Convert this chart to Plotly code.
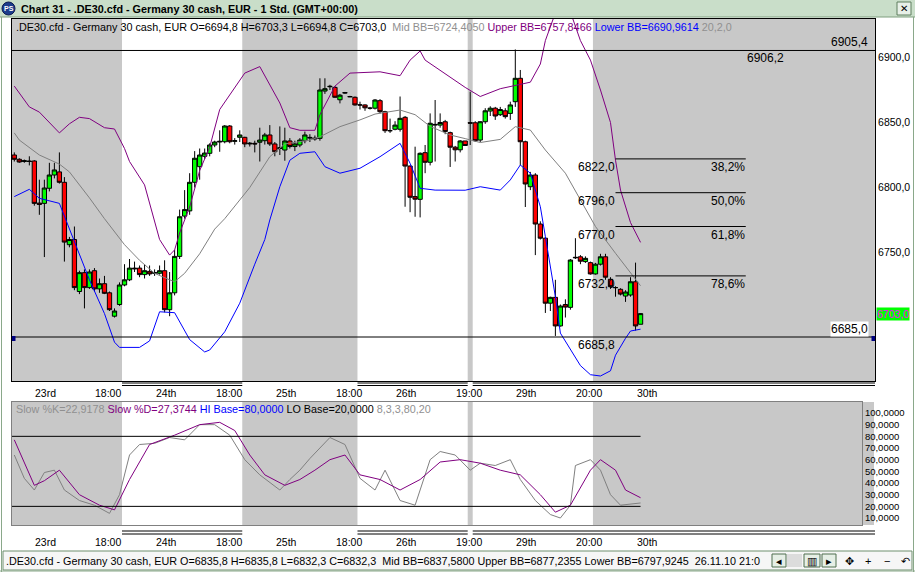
import plotly.graph_objects as go

# ---------------- data ----------------
opens = [6825.0, 6821.7, 6820.0, 6820.4, 6820.4, 6788.0, 6787.8, 6799.4, 6809.6, 6812.0,
         6804.0, 6756.0, 6760.0, 6720.0, 6734.5, 6723.0, 6736.0, 6722.0, 6726.0, 6719.0,
         6701.0, 6710.0, 6725.0, 6729.0, 6738.0, 6738.0, 6733.0, 6735.5, 6734.0, 6734.0,
         6736.0, 6706.0, 6719.0, 6747.0, 6778.0, 6782.0, 6804.0, 6816.0, 6824.0, 6826.3,
         6832.7, 6835.0, 6835.2, 6847.3, 6835.5, 6838.6, 6838.6, 6833.5, 6834.0, 6834.8,
         6836.0, 6840.4, 6833.5, 6830.0, 6828.8, 6835.8, 6831.5, 6832.7, 6836.0, 6838.0,
         6838.0, 6837.8, 6874.2, 6877.5, 6877.0, 6867.5, 6872.6, 6870.0, 6869.4, 6863.5,
         6863.5, 6861.0, 6861.0, 6866.8, 6858.3, 6843.7, 6844.8, 6844.8, 6854.0, 6816.5,
         6793.0, 6790.9, 6826.8, 6819.4, 6848.0, 6848.0, 6850.6, 6842.2, 6831.0, 6829.0,
         6835.8, 6849.9, 6849.8, 6836.5, 6850.6, 6858.8, 6861.0, 6856.0, 6859.0, 6857.0,
         6866.0, 6884.0, 6835.2, 6800.6, 6809.6, 6771.9, 6761.0, 6711.0, 6715.5, 6693.5,
         6710.0, 6707.8, 6746.3, 6746.7, 6743.0, 6742.2, 6733.5, 6741.0, 6746.7, 6729.4,
         6723.0, 6721.7, 6716.5, 6717.3, 6727.5, 6694.8]
highs = [6827.0, 6822.5, 6821.5, 6824.0, 6821.0, 6806.0, 6806.0, 6819.0, 6819.0, 6827.0,
         6808.0, 6762.0, 6770.0, 6736.0, 6737.0, 6737.0, 6738.0, 6730.0, 6732.0, 6720.0,
         6707.0, 6727.0, 6741.0, 6745.0, 6743.0, 6740.0, 6741.0, 6740.0, 6737.0, 6740.0,
         6744.0, 6735.0, 6752.0, 6783.0, 6798.0, 6811.0, 6828.0, 6830.0, 6830.0, 6834.0,
         6836.0, 6844.0, 6848.0, 6848.0, 6838.0, 6844.0, 6839.0, 6835.0, 6836.0, 6846.0,
         6842.0, 6848.0, 6835.0, 6847.0, 6846.0, 6838.0, 6836.0, 6838.0, 6843.0, 6841.0,
         6840.0, 6884.0, 6884.0, 6879.0, 6878.0, 6872.0, 6873.5, 6870.5, 6870.0, 6866.0,
         6864.0, 6862.0, 6868.0, 6868.0, 6859.0, 6853.0, 6851.0, 6870.0, 6855.0, 6817.0,
         6831.4, 6827.0, 6832.7, 6857.0, 6867.3, 6857.0, 6852.0, 6843.0, 6832.0, 6836.5,
         6835.8, 6873.7, 6851.0, 6851.0, 6861.0, 6862.5, 6862.0, 6862.0, 6861.0, 6866.0,
         6906.2, 6890.4, 6836.0, 6812.0, 6811.0, 6774.0, 6762.0, 6716.0, 6729.0, 6710.0,
         6714.0, 6745.0, 6761.0, 6748.0, 6747.0, 6743.0, 6742.0, 6749.0, 6749.0, 6731.0,
         6724.0, 6722.5, 6721.0, 6731.0, 6742.2, 6703.3]
lows = [6820.0, 6819.0, 6819.0, 6817.0, 6786.0, 6779.0, 6746.5, 6797.0, 6807.0, 6803.0,
        6743.0, 6754.0, 6721.0, 6718.0, 6707.0, 6722.0, 6720.0, 6719.0, 6718.0, 6705.0,
        6700.0, 6709.0, 6724.0, 6728.0, 6735.0, 6731.0, 6730.0, 6732.0, 6732.0, 6733.0,
        6704.0, 6701.0, 6717.0, 6745.0, 6776.0, 6779.0, 6800.0, 6806.0, 6822.0, 6824.0,
        6831.0, 6827.5, 6834.0, 6834.0, 6833.0, 6835.0, 6831.0, 6831.5, 6827.0, 6820.0,
        6833.0, 6832.0, 6824.0, 6825.0, 6820.6, 6830.0, 6828.0, 6831.0, 6834.0, 6835.0,
        6836.0, 6836.0, 6872.0, 6875.0, 6869.0, 6864.7, 6872.0, 6869.5, 6863.0, 6860.0,
        6859.0, 6860.0, 6860.0, 6857.0, 6842.0, 6842.0, 6844.0, 6843.0, 6785.2, 6781.0,
        6777.5, 6777.0, 6811.0, 6817.0, 6820.0, 6846.0, 6841.0, 6815.8, 6820.0, 6827.0,
        6832.3, 6832.7, 6835.0, 6835.0, 6849.0, 6855.0, 6852.0, 6855.0, 6853.0, 6852.0,
        6862.0, 6817.0, 6785.0, 6798.0, 6748.0, 6760.0, 6703.5, 6705.0, 6685.8, 6693.0,
        6700.0, 6706.0, 6745.0, 6741.0, 6742.0, 6733.0, 6733.0, 6740.0, 6729.0, 6722.0,
        6716.0, 6717.0, 6712.0, 6716.0, 6690.0, 6694.8]
closes = [6821.7, 6819.6, 6820.6, 6820.0, 6787.8, 6787.0, 6799.6, 6809.6, 6813.5, 6804.0,
          6758.0, 6760.0, 6723.0, 6734.5, 6723.0, 6735.0, 6722.0, 6726.0, 6718.6, 6706.0,
          6705.0, 6725.0, 6729.0, 6738.0, 6737.5, 6733.0, 6736.0, 6733.5, 6734.5, 6736.0,
          6706.0, 6719.0, 6747.0, 6777.5, 6783.0, 6804.0, 6822.5, 6825.0, 6826.5, 6832.7,
          6835.0, 6835.5, 6847.3, 6835.2, 6836.0, 6840.4, 6833.5, 6834.0, 6833.5, 6836.5,
          6840.4, 6833.5, 6827.5, 6830.5, 6835.8, 6831.5, 6833.5, 6836.5, 6840.4, 6838.5,
          6837.5, 6875.0, 6876.0, 6877.8, 6869.4, 6871.0, 6873.0, 6869.8, 6863.5, 6863.5,
          6861.3, 6861.0, 6867.3, 6858.3, 6843.7, 6843.7, 6848.0, 6853.2, 6816.5, 6792.5,
          6791.0, 6826.3, 6819.4, 6849.4, 6848.5, 6850.0, 6843.0, 6831.0, 6829.0, 6835.8,
          6832.3, 6849.5, 6836.0, 6850.6, 6859.0, 6861.0, 6855.0, 6860.0, 6854.5, 6863.5,
          6884.0, 6835.2, 6802.7, 6809.6, 6771.9, 6761.0, 6711.0, 6715.5, 6693.5, 6708.8,
          6708.0, 6744.2, 6746.0, 6743.3, 6745.5, 6733.5, 6741.0, 6746.7, 6731.0, 6723.7,
          6723.0, 6718.0, 6719.6, 6727.5, 6693.5, 6703.0]

# Bollinger band lines (bar index, value)
bb_up_bars = [0, 3, 5, 9, 11, 13, 15, 18, 20, 22, 23, 26, 29, 31, 32, 33, 35, 37, 39, 41,
              46, 49, 53, 55, 57, 60, 61, 64, 67, 73, 77, 79, 81, 82, 90, 93, 97, 103, 105,
              106, 109, 111, 113, 115, 117, 119, 120, 121, 123, 125]
bb_up = [6878, 6862, 6858, 6842, 6849, 6854, 6853, 6846, 6845, 6830, 6820, 6802, 6760, 6748,
         6752, 6765, 6785, 6813, 6831, 6860, 6888, 6893, 6865, 6846, 6844, 6844, 6856, 6878,
         6888, 6889, 6886, 6898, 6905, 6898, 6877, 6870, 6876, 6881, 6895, 6913, 6945, 6935,
         6913, 6898, 6875, 6850, 6821, 6798, 6773, 6757.8]
bb_mid_bars = [0, 1, 5, 9, 11, 15, 18, 22, 25, 28, 31, 32, 34, 37, 40, 42, 47, 51, 54, 59,
               61, 65, 69, 72, 77, 80, 83, 87, 90, 93, 97, 100, 103, 106, 110, 113, 116, 120,
               123, 125]
bb_mid = [6842, 6836.5, 6825, 6818, 6812, 6792, 6776, 6756, 6744, 6734, 6729, 6727.5, 6734,
          6749, 6768, 6776, 6800, 6823.7, 6833.5, 6836.5, 6839, 6846.8, 6852, 6856.5, 6859.6,
          6856, 6847, 6840.4, 6837.6, 6834.6, 6837, 6846.8, 6844.2, 6828.8, 6811, 6790.4,
          6770, 6749.4, 6734, 6724.4]
bb_low_bars = [0, 3, 5, 9, 10, 12, 15, 18, 20, 21, 25, 27, 29, 32, 34, 35, 38, 39, 42, 45,
               48, 50, 51, 53, 55, 57, 60, 62, 65, 69, 73, 77, 79, 81, 84, 90, 93, 97, 99, 101,
               103, 105, 106, 108, 109, 111, 113, 115, 117, 119, 120, 122, 123, 125]
bb_low = [6793, 6798.6, 6791.7, 6787.8, 6778, 6758, 6729, 6703, 6681, 6677, 6677, 6682,
          6704.4, 6703.7, 6690.4, 6683, 6673.5, 6675, 6689, 6711, 6741, 6760, 6775, 6800.6,
          6821, 6826.3, 6827.5, 6816, 6811, 6814.8, 6823.7, 6834, 6818.6, 6799.4, 6798,
          6797.9, 6800.6, 6798, 6805.8, 6817.3, 6811, 6785.2, 6762.2, 6716, 6688, 6675,
          6663, 6656, 6655, 6659, 6671, 6684, 6689.6, 6691]

# Slow stochastic (8,3,3)
stk_bars = [0, 2, 4, 6, 8, 10, 13, 16, 19, 21, 23, 25, 28, 31, 34, 37, 40, 43, 46, 49, 53,
            55, 57, 59, 63, 66, 69, 72, 74, 77, 80, 83, 85, 88, 91, 93, 96, 99, 101, 104,
            107, 109, 111, 112, 115, 117, 119, 121, 125]
stk_k = [64, 44, 34, 49, 51, 34, 25, 21, 14, 30, 64, 73, 74, 79, 77, 90, 90, 81, 60, 47, 34,
         43, 51, 61, 79, 73, 44, 34, 51, 25, 21, 60, 67, 64, 51, 57, 55, 60, 43, 25, 13, 10,
         21, 55, 60, 51, 30, 21, 22.9]
std_bars = [0, 4, 6, 9, 13, 17, 20, 23, 27, 32, 37, 41, 44, 47, 50, 54, 57, 60, 63, 66, 69,
            73, 77, 81, 85, 89, 93, 97, 101, 105, 108, 111, 115, 117, 120, 122, 125]
std_d = [77, 38, 42, 51, 30, 21, 17, 43, 73, 81, 90, 92, 85, 64, 47, 38, 43, 51, 60, 64, 47,
         43, 34, 43, 58, 60, 57, 51, 47, 30, 15, 21, 51, 60, 51, 34, 27.4]

tick_labels = ["23rd", "18:00", "24th", "18:00", "25th", "18:00", "26th", "19:00",
               "29th", "20:00", "30th"]
session_starts = [22, 46, 69, 91, 92, 116]          # first bar of each new session
fib_levels = [6822.0, 6796.0, 6770.0, 6732.0]
fib_pcts = ["38,2%", "50,0%", "61,8%", "78,6%"]
swing_high, swing_low = 6906.2, 6685.8
hline_top, hline_bottom = 6905.4, 6685.0

# ---------------- geometry ----------------
W, H = 915, 572
def px(x): return x / W
def py(y): return 1 - y / H

BAR0, BAR_W = 14.3, 5.01
def bar_at(xp): return (xp - BAR0) / BAR_W

X_L, X_RM, X_RS = 12, 875, 862
M_T, M_B = 19, 381
S_T, S_B = 402, 525
xmin = bar_at(X_L)
xmax_m = bar_at(X_RM)
xmax_s = bar_at(X_RS)
y_lo = 6900 - (M_B - 57.5) / 1.3
y_hi = 6900 + (57.5 - M_T) / 1.3
s_lo = 100 - (S_B - 413) / 1.167
s_hi = 100 + (413 - S_T) / 1.167

n = len(opens)
bars = list(range(n))
FONT = "Liberation Sans"
GRAY_BG = "#c8c8c8"
TXT = 10.8

fig = go.Figure()
fig.add_trace(go.Candlestick(
    x=bars, open=opens, high=highs, low=lows, close=closes,
    increasing=dict(line=dict(color="black", width=1), fillcolor="#00ff00"),
    decreasing=dict(line=dict(color="black", width=1), fillcolor="#ff0000"),
    whiskerwidth=0, showlegend=False, hoverinfo="skip", xaxis="x", yaxis="y"))
for bx, by, col in [(bb_mid_bars, bb_mid, "#808080"), (bb_up_bars, bb_up, "#800080"),
                    (bb_low_bars, bb_low, "#0000ff")]:
    fig.add_trace(go.Scatter(x=bx, y=by, mode="lines", line=dict(color=col, width=1),
                             showlegend=False, hoverinfo="skip", xaxis="x", yaxis="y"))
fig.add_trace(go.Scatter(x=stk_bars, y=stk_k, mode="lines", line=dict(color="#808080", width=1),
                         showlegend=False, hoverinfo="skip", xaxis="x2", yaxis="y2"))
fig.add_trace(go.Scatter(x=std_bars, y=std_d, mode="lines", line=dict(color="#800080", width=1),
                         showlegend=False, hoverinfo="skip", xaxis="x2", yaxis="y2"))

shapes = []
def rect(x0, x1, y0, y1, fill, xref="paper", yref="paper", line=None, layer="below"):
    shapes.append(dict(type="rect", xref=xref, yref=yref, x0=x0, x1=x1, y0=y0, y1=y1,
                       fillcolor=fill, line=line or dict(width=0), layer=layer))
def seg(x0, y0, x1, y1, color="black", xref="paper", yref="paper", width=1, layer="above"):
    shapes.append(dict(type="line", xref=xref, yref=yref, x0=x0, y0=y0, x1=x1, y1=y1,
                       line=dict(color=color, width=width), layer=layer))

def shade(xref, yref, right):
    edges = [xmin] + [s - 0.5 for s in session_starts] + [right]
    for i in range(len(edges) - 1):
        if i % 2 == 0:
            rect(edges[i], edges[i + 1], 0, 1, GRAY_BG, xref=xref, yref=yref)
shade("x", "y domain", xmax_m)
shade("x2", "y2 domain", xmax_s)
rect(px(862), px(874), py(S_B), py(S_T), GRAY_BG)

# window chrome
rect(0, 1, py(17), 1, "#c9dec9")
seg(0, py(17), 1, py(17), "#7f9f7f")
seg(px(1.5), 0, px(1.5), py(17), "#8aa88a")
seg(px(913.5), 0, px(913.5), py(17), "#8aa88a")
seg(0, py(571), 1, py(571), "#8aa88a")
shapes.append(dict(type="circle", xref="paper", yref="paper", x0=px(2), x1=px(15), y0=py(15),
                   y1=py(2), fillcolor="#1c3c8c", line=dict(color="#0a1a50", width=1)))
rect(px(897), px(911), py(15), py(2), "#e8f0e8", line=dict(color="#5f7f5f", width=1))
rect(px(3), px(912), py(570), py(551), "#f6f6f6", line=dict(color="#6f8f6f", width=1))
for x0b, x1b in [(772, 786), (804, 820), (822, 836)]:
    rect(px(x0b), px(x1b), py(567), py(554), "#e6efe6", line=dict(color="#4f6f4f", width=1))
rect(px(787), px(802), py(567), py(554), "#dcdcdc")

for a, b in [(21.5, 45.5), (68.5, 90.5), (91.5, None)]:
    xa = px(BAR0 + a * BAR_W)
    xb = px(X_RM) if b is None else px(BAR0 + b * BAR_W)
    for yy in (383, 385.5, 531, 534):
        seg(xa, py(yy), xb, py(yy))

seg(px(X_L), hline_top, px(X_RM), hline_top, yref="y")
seg(px(X_L), hline_bottom, px(X_RM), hline_bottom, yref="y")
rect(px(12), px(15.5), py(341), py(336), "#000080", layer="above")
rect(px(871.5), px(875), py(341), py(336), "#000080", layer="above")
FIB_A, FIB_B = 120, 146
for lv in fib_levels:
    seg(FIB_A, lv, FIB_B, lv, xref="x", yref="y")
for lv in (80, 20):
    seg(xmin, lv, n - 1, lv, xref="x2", yref="y2")

ann = []
def text(x, y, s, size=11, color="black", xanchor="left", yanchor="middle", xref="paper",
         yref="paper", **kw):
    ann.append(dict(x=x, y=y, text=s, xref=xref, yref=yref, xanchor=xanchor, yanchor=yanchor,
                    showarrow=False, font=dict(family=FONT, size=size, color=color),
                    borderpad=0, **kw))

def fmt(v, d=1):
    return f"{v:.{d}f}".replace(".", ",")

text(px(20), py(8.5), "<b>Chart 31 - .DE30.cfd - Germany 30 cash, EUR - 1 Std. (GMT+00:00)</b>",
     size=TXT)
text(px(8.5), py(8.5), "<b>PS</b>", size=7, color="white", xanchor="center")
text(px(904), py(8.5), "✕", size=10, xanchor="center")

hdr = (f".DE30.cfd - Germany 30 cash, EUR O={fmt(opens[-1])} H={fmt(highs[-1])} "
       f"L={fmt(lows[-1])} C={fmt(closes[-1])}  "
       '<span style="color:#909090">Mid BB=6724,4050</span> '
       '<span style="color:#800080">Upper BB=6757,8466</span> '
       '<span style="color:#0000ff">Lower BB=6690,9614</span> '
       '<span style="color:#909090">20,2,0</span>')
text(px(15), py(27), hdr, size=TXT)
shdr = ('<span style="color:#909090">Slow %K=22,9178</span> '
        '<span style="color:#800080">Slow %D=27,3744</span> '
        '<span style="color:#0000ff">HI Base=80,0000</span> LO Base=20,0000 '
        '<span style="color:#909090">8,3,3,80,20</span>')
text(px(15), py(409), shdr, size=TXT)

status = (".DE30.cfd - Germany 30 cash, EUR O=6835,8 H=6835,8 L=6832,3 C=6832,3  "
          "Mid BB=6837,5800 Upper BB=6877,2355 Lower BB=6797,9245  26.11.10 21:0")
text(px(5), py(561), status, size=TXT)
for xc, s in [(779, "◂"), (812, "▥"), (829, "▸"), (849, "✥"), (868, "+"), (887, "−"), (905, "↶")]:
    text(px(xc), py(561), s, size=11, xanchor="center")

for k, lab in enumerate(tick_labels):
    b = 4 + 12 * k
    text(b, py(393), lab, size=10.5, xref="x")
    text(b, py(541.5), lab, size=10.5, xref="x2")

text(px(869), hline_top, fmt(hline_top), size=12, xanchor="right", yanchor="bottom", yref="y")
text(FIB_B, hline_top, fmt(swing_high), size=12, yanchor="top", xref="x", yref="y")
text(px(869), hline_bottom, fmt(hline_bottom), size=12, xanchor="right", yanchor="bottom",
     yref="y", bgcolor="white")
text(FIB_A, hline_bottom, fmt(swing_low), size=12, xanchor="right", yanchor="top",
     xref="x", yref="y")
for lv, pc in zip(fib_levels, fib_pcts):
    text(FIB_A, lv, fmt(lv), size=12, xanchor="right", yanchor="top", xref="x", yref="y")
    text(FIB_B, lv, pc, size=12, xanchor="right", yanchor="top", xref="x", yref="y")
text(px(876), closes[-1], fmt(closes[-1]), size=10.5, color="#ff00ff", yref="y",
     bgcolor="#00ff00")

axis_common = dict(showgrid=False, zeroline=False, fixedrange=True)
fig.update_layout(
    width=W, height=H, margin=dict(l=0, r=0, t=0, b=0),
    paper_bgcolor="white", plot_bgcolor="white", separators=", ",
    showlegend=False, shapes=shapes, annotations=ann, dragmode=False,
    boxgap=0.1, boxgroupgap=0.05,
    xaxis=dict(domain=[px(X_L), px(X_RM)], range=[xmin, xmax_m], anchor="y",
               showticklabels=False, ticks="", showline=True, mirror=True, linecolor="black",
               linewidth=1, rangeslider=dict(visible=False), **axis_common),
    yaxis=dict(domain=[py(M_B), py(M_T)], range=[y_lo, y_hi], anchor="x", side="right",
               tickvals=[6750, 6800, 6850, 6900], tickformat=".1f", ticks="",
               tickfont=dict(family=FONT, size=10.5, color="black"),
               showline=True, mirror=True, linecolor="black", linewidth=1, **axis_common),
    xaxis2=dict(domain=[px(X_L), px(X_RS)], range=[xmin, xmax_s], anchor="y2",
                showticklabels=False, ticks="", showline=True, mirror=True,
                linecolor="#808080", linewidth=1, **axis_common),
    yaxis2=dict(domain=[py(S_B), py(S_T)], range=[s_lo, s_hi], anchor="x2", side="right",
                tickvals=list(range(10, 101, 10)), tickformat=".4f", ticks="",
                tickfont=dict(family=FONT, size=9.5, color="black"),
                showline=True, mirror=True, linecolor="#808080", linewidth=1, **axis_common),
)
fig.write_html("out.html", config={"displayModeBar": False, "staticPlot": True})

# remove the browser's default page margin so the figure sits at the window's top-left corner
with open("out.html", encoding="utf-8") as f:
    page = f.read()
page = page.replace("<head>", "<head><style>html,body{margin:0;padding:0;overflow:hidden;}</style>", 1)
with open("out.html", "w", encoding="utf-8") as f:
    f.write(page)
